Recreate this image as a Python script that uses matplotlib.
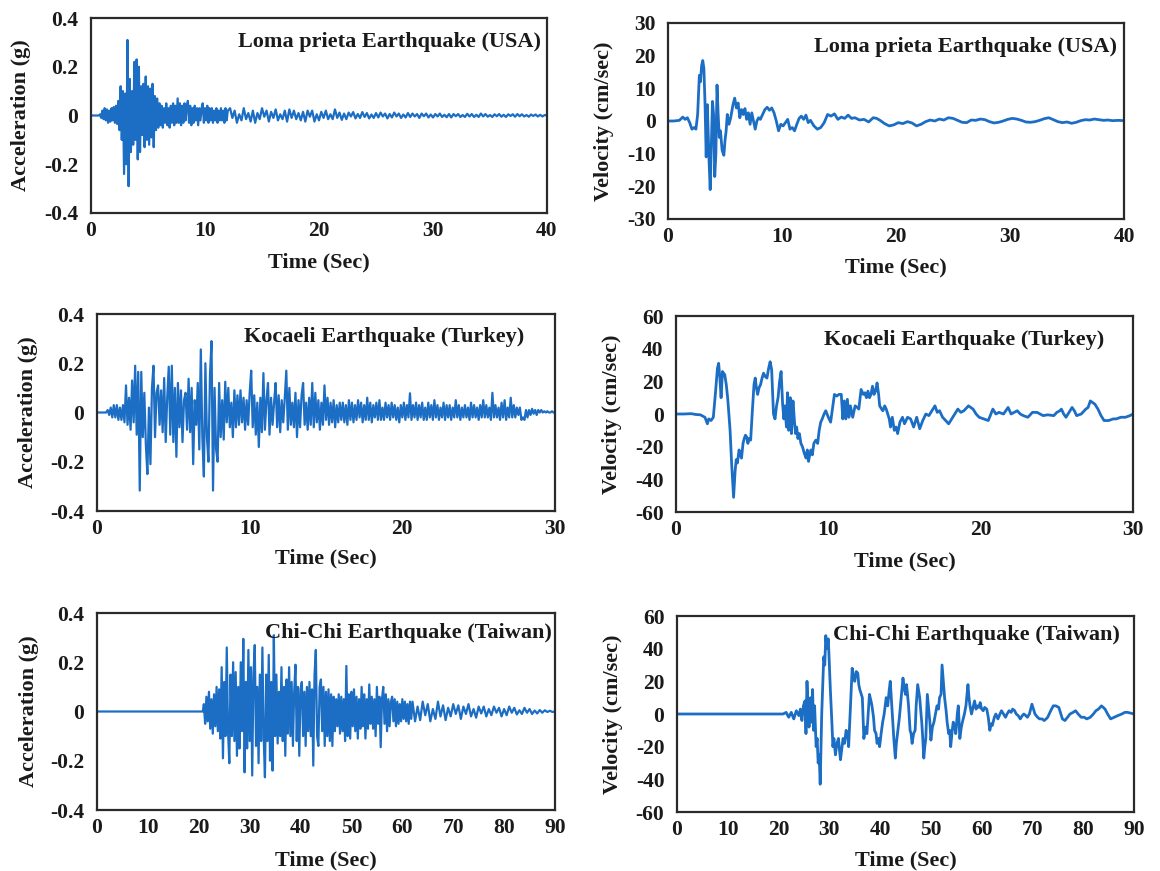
import numpy as np
import matplotlib
matplotlib.use("Agg")
import matplotlib.pyplot as plt

plt.rcParams['font.family'] = ['Liberation Serif', 'DejaVu Serif']
plt.rcParams['font.weight'] = 'bold'
plt.rcParams['axes.unicode_minus'] = False

# ---------------- DATA ----------------
# Loma Prieta acceleration (g): segments (start time, step, values)
loma_acc_a = [0, 0, 0, 0, 0, 0, 0, 0,
              0.005, -0.01, 0.02, -0.015, 0.03, -0.02, 0.025, -0.03, 0.02, -0.025, 0.03, -0.02, 0.035, -0.03, 0.04, -0.035, 0.06,
              -0.06, 0.12, -0.1, 0.1, -0.24, 0.09,
              -0.2, 0.31, -0.29, 0.15, -0.15,
              0.1, -0.12, 0.22, -0.1, 0.23, -0.18, 0.2, -0.15, 0.12,
              -0.08, 0.13, -0.13, 0.16, -0.1, 0.12,
              -0.12, 0.11, -0.09, 0.13, -0.13, 0.08,
              -0.06, 0.07, -0.05, 0.05, -0.04,
              0.04, -0.05, 0.03, -0.03, 0.05, -0.04, 0.03, -0.05, 0.04, -0.03, 0.05, -0.04, 0.04, -0.03,
              0.07, -0.03, 0.05, -0.04, 0.04, -0.03, 0.05, -0.02, 0.04,
              0.06, -0.03, 0.04, -0.04, 0.03, -0.03, 0.04, -0.02, 0.03, -0.04, 0.03, -0.02, 0.03,
              0.05, -0.03, 0.03, -0.02, 0.04, -0.03, 0.03, -0.02, 0.03, -0.03, 0.02, -0.02, 0.03, -0.03, 0.02,
              -0.02, 0.03, -0.02, 0.02, -0.03, 0.03, -0.02, 0.02]
loma_acc_b = [0.03, -0.01, 0.02, -0.03, 0.005, -0.02, 0.03, -0.015, 0.01, -0.025,
              0.02, -0.03, 0.01, -0.015, 0.03, -0.005, 0.02, -0.025, 0.015, -0.01,
              0.025, -0.02, 0.005, -0.015, 0.02, -0.025, 0.025, -0.01, 0.02, -0.015,
              0.01, -0.02, 0.015, -0.025, 0.02, -0.005, 0.02, -0.025, 0.005, -0.02,
              0.015, -0.01, 0.02, -0.015, 0.005, -0.015, 0.025, -0.01, 0.012, -0.018,
              0.008, -0.015, 0.012, -0.004, 0.014, -0.012, 0.006, -0.01, 0.014, -0.006,
              0.01, -0.012, 0.004, -0.01, 0.01, -0.008, 0.012, -0.004, 0.008, -0.012,
              0.006, -0.008, 0.012, -0.004, 0.008, -0.01, 0.004, -0.008, 0.01, -0.006,
              0.008, -0.004, 0.006, -0.01, 0.008, -0.003, 0.008, -0.008, 0.004, -0.008,
              0.006, -0.004, 0.008, -0.006, 0.003, -0.007, 0.006, -0.008, 0.006, -0.003,
              0.006, -0.006, 0.002, -0.006, 0.007, -0.004, 0.006, -0.006, 0.003, -0.006,
              0.008, -0.004, 0.006, -0.005, 0.002, -0.006, 0.005, -0.003, 0.006, -0.005,
              0.003, -0.006, 0.005, -0.002, 0.005, -0.005, 0.006, -0.003, 0.005, -0.004,
              0.002, -0.005, 0.004, -0.002, 0.004, -0.004, 0.003, -0.004, 0.002, 0.0]
loma_acc_segments = [(0.0, 0.1, loma_acc_a), (12.2, 0.2, loma_acc_b)]

# Loma Prieta velocity (cm/sec)
loma_vel_t = [0, 0.5, 1.0, 1.3, 1.5, 1.7, 1.9, 2.1, 2.3, 2.45, 2.6, 2.75, 2.85, 2.95, 3.05, 3.15, 3.25, 3.35, 3.45,
              3.6, 3.7, 3.8, 3.9, 4.0, 4.1, 4.2, 4.3, 4.4, 4.5, 4.6, 4.75, 4.9, 5.0, 5.1, 5.2, 5.35, 5.5, 5.7,
              5.85, 6.0, 6.15, 6.3, 6.45, 6.6, 6.75, 6.9, 7.05, 7.2, 7.35, 7.5, 7.65, 7.8, 7.95, 8.1, 8.3, 8.5,
              8.7, 8.9, 9.1, 9.3, 9.5, 9.7, 9.9, 10.1, 10.3, 10.5, 10.7, 10.9, 11.1, 11.3, 11.5, 11.7, 11.9,
              12.1, 12.3, 12.5, 12.8, 13.1, 13.4, 13.7, 14.0, 14.3, 14.6, 14.9, 15.2, 15.5, 15.8, 16.1, 16.4,
              16.8, 17.2, 17.6, 18.0, 18.3, 18.6, 19.0, 19.4, 19.8, 20.2, 20.6, 21.0, 21.4, 21.8, 22.2, 22.6,
              23.0, 23.4, 23.8, 24.2, 24.6, 25.0, 25.4, 25.8, 26.2, 26.6, 27.0, 27.4, 27.8, 28.2, 28.6, 29.0,
              29.4, 29.8, 30.2, 30.6, 31.0, 31.4, 31.8, 32.2, 32.6, 33.0, 33.4, 33.8, 34.2, 34.6, 35.0, 35.4,
              35.8, 36.2, 36.6, 37.0, 37.4, 37.8, 38.2, 38.6, 39.0, 39.5, 40.0]
loma_vel_v = [0, 0, 0.2, 1.2, 0.5, 1.0, -0.5, -2.5, -2.0, -2.5, 2, 14, 12, 17, 18.5, 16, 5, -11, 5,
              -12, -21, -8, 6, 2, -17, -10, 11, 2, -5, -3, -9, -10.5, -6, -3, 2, -1, 1, 5,
              7, 4, 5.5, 1, 3.5, 2, 3.8, 0.5, 2.5, -1, 2.5, 0, -2.5, 0, 1, 0.5, 2, 3.5,
              4.2, 3.3, 4, 2.5, 0, -3, -1, -1.5, -0.5, 0.5, -2.5, -2, -3, -1, 0.8, 1.5, 0.5,
              1.8, -0.5, 0.2, -1.5, -2.5, -2, -0.5, 2, 1.5, 2.2, 0.5, 1.2, 0.8, 1.8, 0.8, 1,
              0.3, 0.5, -0.3, 1, 0.8, 0.2, -0.8, -1.5, -1.2, -0.5, -0.8, -0.2, -0.6, -1.5, -1, -0.2,
              0.3, 0, 0.6, 0.3, 1, 0.8, 0.2, -0.4, -0.5, 0.3, 0.2, 0.6, 0.4, -0.2, -0.6, -0.4,
              0, 0.5, 0.8, 0.6, 0.2, -0.3, -0.4, -0.2, 0.2, 0.7, 1, 0.4, -0.2, -0.5, -0.3, -0.7,
              -0.4, 0.1, 0.4, 0.3, 0.6, 0.4, 0.2, 0.3, 0.1, 0.2, 0.1]

# Kocaeli acceleration (g), 0.1 s step from 0 s
kocaeli_acc = [0, 0, 0, 0, 0, 0, 0, 0.01, -0.01, 0.02,
               -0.02, 0.03, -0.02, 0.03, -0.03, 0.02, -0.03, 0.03, -0.04, 0.11,
               -0.05, 0.06, -0.07, 0.13, -0.04, 0.19, -0.09, 0.165, -0.317, 0.165,
               -0.1, 0.08, -0.13, -0.25, 0.02, -0.21, 0.1, 0.19, -0.1, 0.08,
               0.11, -0.05, 0.09, -0.08, 0.14, -0.12, 0.06, 0.186, -0.09, 0.19,
               -0.12, 0.1, -0.18, 0.12, -0.06, 0.09, -0.12, 0.05, 0.08, -0.07,
               0.137, -0.08, 0.1, -0.21, 0.05, -0.05, 0.12, -0.15, 0.256, -0.1,
               -0.26, 0.2, -0.1, -0.2, 0.15, 0.29, -0.317, 0.1, -0.15, -0.2,
               0.12, -0.1, 0.05, -0.11, 0.125, -0.04, 0.1, -0.06, 0.04, -0.1,
               0.09, -0.06, 0.07, -0.05, 0.09, -0.04, 0.06, -0.07, 0.05, -0.05,
               0.08, 0.17, -0.06, 0.07, -0.09, 0.04, -0.14, 0.06, -0.08, 0.16,
               -0.07, 0.05, 0.12, -0.09, 0.06, -0.05, 0.04, 0.12, -0.06, 0.07,
               -0.08, 0.05, -0.04, 0.06, 0.17, -0.07, 0.1, -0.05, 0.04, -0.06,
               0.08, -0.1, 0.05, -0.06, 0.07, 0.12, -0.05, 0.04, -0.07, 0.06,
               -0.05, 0.12, -0.06, 0.08, -0.04, 0.05, -0.07, 0.04, -0.05, 0.11,
               -0.03, 0.06, -0.05, 0.04, -0.04, 0.05, -0.06, 0.03, -0.04, 0.04,
               -0.03, 0.04, -0.04, 0.03, -0.05, 0.05, -0.03, 0.04, -0.04, 0.03,
               -0.03, 0.05, -0.02, 0.04, -0.04, 0.03, -0.03, 0.06, -0.03, 0.04,
               -0.04, 0.03, -0.02, 0.04, -0.03, 0.05, -0.03, 0.02, -0.03, 0.04,
               -0.02, 0.03, -0.03, 0.04, -0.02, 0.03, -0.03, 0.02, -0.04, 0.03,
               -0.02, 0.04, -0.03, 0.03, -0.02, 0.078, -0.03, 0.03, -0.02, 0.04,
               -0.03, 0.03, -0.02, 0.04, -0.03, 0.02, -0.03, 0.04, -0.02, 0.03,
               -0.03, 0.05, -0.02, 0.03, -0.03, 0.02, -0.02, 0.04, -0.03, 0.03,
               -0.02, 0.03, -0.03, 0.02, -0.02, 0.05, -0.02, 0.03, -0.03, 0.02,
               -0.02, 0.03, -0.02, 0.02, -0.03, 0.04, -0.02, 0.03, -0.02, 0.02,
               -0.03, 0.03, -0.02, 0.05, -0.02, 0.03, -0.02, 0.02, -0.03, 0.08,
               -0.02, 0.03, -0.02, 0.02, -0.03, 0.04, -0.02, 0.05, -0.03, 0.02,
               -0.02, 0.06, -0.02, 0.03, -0.02, 0.02, -0.01, 0.02, -0.03, -0.02,
               -0.03, 0.01, -0.02, 0.01, -0.01, 0.015, -0.005, 0.01, -0.01, 0.01,
               0.0, 0.01, 0.0, 0.005, 0.0, 0.005, 0.0, 0.0, 0.005, 0.0, 0.0]
kocaeli_acc_segments = [(0.0, 0.1, kocaeli_acc)]

# Kocaeli velocity (cm/sec)
kocaeli_vel_t = [0, 0.5, 1.0, 1.3, 1.6, 1.9, 2.06, 2.15, 2.3, 2.45, 2.6, 2.72, 2.8, 2.88, 2.96, 3.05, 3.2, 3.3,
                 3.4, 3.55, 3.65, 3.78, 3.88, 3.95, 4.03, 4.14, 4.22, 4.3, 4.4, 4.48, 4.56, 4.64, 4.72, 4.8,
                 4.9, 5.0, 5.12, 5.2, 5.28, 5.36, 5.45, 5.55, 5.65, 5.75, 5.85, 5.97, 6.08, 6.18, 6.28, 6.4,
                 6.5, 6.6, 6.7, 6.8, 6.9, 7.0, 7.08, 7.15, 7.25, 7.32, 7.4, 7.5, 7.58, 7.68, 7.78, 7.85, 7.92,
                 8.0, 8.1, 8.2, 8.3, 8.42, 8.54, 8.62, 8.7, 8.78, 8.86, 8.95, 9.05, 9.18, 9.3, 9.4, 9.5, 9.6,
                 9.72, 9.83, 10.0, 10.15, 10.3, 10.4, 10.55, 10.7, 10.85, 10.95, 11.05, 11.15, 11.25, 11.35,
                 11.45, 11.6, 11.76, 11.9, 12.0, 12.15, 12.3, 12.4, 12.5, 12.6, 12.7, 12.8, 12.9, 13.0, 13.1,
                 13.2, 13.3, 13.37, 13.5, 13.58, 13.7, 13.8, 13.9, 14.0, 14.08, 14.2, 14.33, 14.45, 14.55,
                 14.7, 14.87, 15.0, 15.2, 15.4, 15.6, 15.8, 16.0, 16.2, 16.4, 16.6, 16.8, 17.0, 17.15, 17.3,
                 17.5, 17.7, 17.9, 18.1, 18.3, 18.5, 18.7, 18.9, 19.2, 19.5, 19.7, 19.9, 20.2, 20.5, 20.8,
                 21.0, 21.2, 21.5, 21.8, 22.0, 22.2, 22.4, 22.6, 22.8, 23.1, 23.4, 23.7, 23.9, 24.1, 24.4,
                 24.8, 25.0, 25.2, 25.3, 25.45, 25.6, 25.8, 26.0, 26.15, 26.3, 26.6, 26.9, 27.05, 27.2, 27.35,
                 27.5, 27.7, 27.9, 28.1, 28.4, 28.7, 28.9, 29.2, 29.5, 29.8, 30.0]
kocaeli_vel_v = [0, 0, 0.2, -0.3, -0.5, -2, -6, -3, -4, -2, 14, 28, 31, 22, 10, 26, 24, 18,
                 9, -10, -30, -51, -35, -28, -30, -22, -25, -27, -18, -15, -13, -14, -18, -15,
                 -16, 0, 18, 22, 16, 12, 16, 18, 22, 25, 23, 22, 28, 32, 27, 0,
                 -3, 5, 10, 20, 26, 6, -3, 5, -8, 13, -10, 10, -12, 8, -5, -12, -8,
                 -15, -12, -18, -20, -24, -27, -22, -29, -25, -22, -25, -18, -16, -18, -10, -5, -3,
                 0, 2, -2, -5, 5, 12, 11, 12, 12, -3, 8, -3, 9, -2,
                 5, -2, 5, 4, 3, 15, 12, 13, 10, 14, 10, 12, 17, 12, 14,
                 19, 12, 5, 3, 2, 5, 3, 0, -3, -8, -2, -10, -8, -12,
                 -5, -2, -6, -2, -3, -8, -2, -9, -4, 0, -1, 2, 5, 1, 2,
                 -2, -4, -6, -3, 0, 3, 1, 2, 5, 3, 0, -2, -3, -4, 3,
                 0, 1, 0, 4, 0, 1, 2, 0, -1, -2, 1, 1, 0, -1, -0.5,
                 -1, 1, 2, 3, 0, -2, 1, 4, 2, -1, 0, 3, 4, 8, 7,
                 6, 3, -1, -4, -4, -3, -3, -2, -2, -1, 0]

# Chi-Chi acceleration (g)
chichi_acc_quiet = [0.0, 0.0]
chichi_acc_main = [0.03, -0.05, 0.06, -0.04,
                   0.08, -0.07, 0.05, -0.09,
                   0.07, -0.06, 0.1, -0.08,
                   0.09, -0.11, 0.18, -0.19,
                   0.12, -0.1, 0.26, -0.08,
                   -0.21, 0.15, -0.1, 0.2,
                   -0.12, 0.16, -0.18, 0.1,
                   -0.15, 0.2, -0.08, 0.295,
                   -0.247, 0.12, -0.15, 0.25,
                   -0.12, 0.18, -0.26, 0.15,
                   0.27, -0.14, 0.1, -0.21,
                   0.15, -0.12, 0.26, -0.1,
                   -0.267, 0.15, -0.12, 0.23,
                   -0.2, 0.12, -0.24, 0.31,
                   -0.1, 0.15, -0.13, 0.08,
                   -0.1, 0.18, -0.12, 0.1,
                   -0.18, 0.13, -0.09, 0.18,
                   -0.1, 0.12, -0.14, 0.08,
                   0.19, -0.12, 0.1, -0.18,
                   0.09, 0.12, -0.1, 0.08,
                   -0.14, 0.1, -0.08, 0.12,
                   -0.1, 0.09, -0.22, 0.15,
                   0.25, -0.1, -0.14, 0.1,
                   0.13, -0.08, 0.1, -0.14,
                   0.08, -0.1, 0.09, -0.12,
                   0.07, -0.14, 0.06, -0.08,
                   0.05, -0.06, 0.07, -0.09,
                   0.06, -0.08, 0.05, -0.12,
                   0.185, -0.1, 0.07, -0.11,
                   0.08, -0.06, 0.09, -0.08,
                   0.06, -0.11, 0.05, -0.07,
                   0.1, -0.06, 0.07, -0.11,
                   0.05, -0.07, 0.11, -0.05,
                   0.06, -0.07, 0.05, -0.1,
                   0.1, -0.05, 0.06, -0.145,
                   0.05, 0.1, -0.05, 0.07,
                   -0.08, 0.05, -0.06, 0.04,
                   0.06, -0.04, 0.05, -0.06,
                   0.04, -0.05, 0.03, -0.04,
                   0.05, -0.03, 0.04, -0.04,
                   0.03, -0.05, 0.04, -0.03,
                   0.04]
chichi_acc_tail = [-0.04, 0.02, -0.035, 0.04, -0.015, 0.03, -0.04, 0.01, -0.03, 0.04,
                   -0.02, 0.025, -0.035, 0.015, -0.02, 0.03, -0.01, 0.025, -0.03, 0.02,
                   -0.01, 0.03, -0.02, 0.01, -0.025, 0.02, -0.008, 0.02, -0.02, 0.01,
                   -0.015, 0.02, -0.005, 0.015, -0.02, 0.01, -0.015, 0.02, -0.005, 0.015,
                   -0.012, 0.005, -0.01, 0.015, -0.005, 0.01, -0.01, 0.004, -0.008, 0.006,
                   -0.005, 0.005, -0.002, 0.003, -0.002, 0.0]
chichi_acc_segments = [(0.0, 20.8, chichi_acc_quiet), (21.0, 0.25, chichi_acc_main), (62.5, 0.5, chichi_acc_tail)]

# Chi-Chi velocity (cm/sec)
chichi_vel_t = [0, 20.9, 21.5, 22, 22.5, 23, 23.5, 24, 24.3, 24.6, 24.9, 25.2, 25.4, 25.6, 25.8, 26.0, 26.3, 26.5,
                26.7, 26.9, 27.1, 27.4, 27.6, 27.8, 28.0, 28.2, 28.5, 28.9, 29.1, 29.3, 29.5, 29.8, 30.0, 30.2,
                30.5, 30.7, 30.9, 31.2, 31.5, 31.8, 32.0, 32.2, 32.5, 32.7, 33.0, 33.3, 33.6, 33.8, 34.1, 34.5,
                34.8, 35.0, 35.3, 35.6, 35.8, 36.0, 36.3, 36.5, 36.8, 37.1, 37.4, 37.7, 37.9, 38.2, 38.4, 38.7,
                38.9, 39.2, 39.4, 39.7, 39.9, 40.2, 40.5, 40.8, 41.2, 41.5, 41.8, 42.0, 42.3, 42.5, 42.7, 43.0,
                43.2, 43.5, 43.8, 44.0, 44.3, 44.5, 44.8, 45.0, 45.2, 45.4, 45.6, 45.9, 46.1, 46.3, 46.6, 46.9,
                47.1, 47.4, 47.6, 47.8, 48.0, 48.2, 48.4, 48.6, 48.8, 49.0, 49.3, 49.5, 49.8, 50.0, 50.3, 50.6,
                50.9, 51.2, 51.5, 51.7, 52.0, 52.2, 52.4, 52.7, 53.0, 53.2, 53.5, 53.7, 53.9, 54.2, 54.4, 54.7,
                54.9, 55.2, 55.4, 55.7, 56.0, 56.2, 56.6, 56.9, 57.3, 57.5, 57.7, 58.0, 58.3, 58.6, 58.9, 59.2,
                59.5, 59.7, 60.0, 60.3, 60.6, 61.0, 61.3, 61.6, 61.9, 62.1, 62.5, 62.8, 63.2, 63.6, 63.9, 64.3,
                64.7, 65.0, 65.4, 65.8, 66.1, 66.5, 66.8, 67.2, 67.6, 68.0, 68.3, 68.7, 69.0, 69.4, 69.9, 70.2,
                70.5, 71.0, 71.4, 71.9, 72.3, 72.7, 73.0, 73.6, 74.1, 74.6, 75.2, 75.6, 75.9, 76.4, 76.9, 77.4,
                78.0, 78.5, 79.0, 79.6, 80.2, 80.7, 81.4, 82.0, 82.5, 83.0, 83.6, 84.3, 84.8, 85.4, 86.1, 86.8,
                87.6, 88.2, 88.7, 89.4, 90.0]
chichi_vel_v = [0, 0, 1, -2, 1, -3, 2, -1, 3, -4, 5, 8, -12, 20, 5, -8, 10, -5,
                15, -10, 5, -20, -15, -30, -25, -43, 0, 35, 30, 48, 40, 46, 30, 15,
                -5, -20, -15, -25, -18, -15, -22, -28, -20, -15, -18, -10, -12, -20, 0, 28,
                22, 20, 26, 25, 18, 15, 12, 10, -15, -8, -12, 2, 12, 8, 5, -2,
                -10, -12, -18, -15, -20, -12, -5, 0, 10, 5, 15, 20, 5, -5, -15, -27,
                -18, -10, -2, 5, 15, 22, 15, 12, 18, 12, 5, -10, -12, -18, -12, -10,
                5, 18, 14, 10, 2, -5, -15, -27, -20, -15, 12, 5, -5, -16, -8, -5,
                0, 5, 3, 10, 12, 30, 22, 10, 2, -5, -12, -10, -20, -10, -5, -8,
                -12, 0, 5, -15, -8, -5, 0, 5, 18, 10, 5, 0, 4, 8, 3, 5,
                4, 7, 3, 2, 4, 3, -2, -10, -6, -7, -2, 0, -3, 0, 2, 0,
                -2, 0, 2, 1, 3, 2, 0, -1, -3, -1, 0, -1, -2, 0, 6, 3,
                0, -2, -3, -3, -4, -3, -2, 2, 5, 5, 4, 0, -3, -4, -2, 0,
                1, 2, 0, -2, -2, -3, -2, 0, 2, 3, 5, 3, 0, -3, -2, -1,
                0, 1, 1, 0.5, 0]

# Panel texts and axis settings
titles = ["Loma prieta Earthquake (USA)", "Loma prieta Earthquake (USA)",
          "Kocaeli Earthquake (Turkey)", "Kocaeli Earthquake (Turkey)",
          "Chi-Chi Earthquake (Taiwan)", "Chi-Chi Earthquake (Taiwan)"]
acc_label = "Acceleration (g)"
vel_label = "Velocity (cm/sec)"
time_label = "Time (Sec)"
acc_yticks = [-0.4, -0.2, 0, 0.2, 0.4]
acc_yticklabels = ["-0.4", "-0.2", "0", "0.2", "0.4"]
loma_vel_yticks = [-30, -20, -10, 0, 10, 20, 30]
loma_vel_yticklabels = ["-30", "-20", "-10", "0", "10", "20", "30"]
vel_yticks = [-60, -40, -20, 0, 20, 40, 60]
vel_yticklabels = ["-60", "-40", "-20", "0", "20", "40", "60"]
xticks_40 = [0, 10, 20, 30, 40]
xticks_30 = [0, 10, 20, 30]
xticks_90 = [0, 10, 20, 30, 40, 50, 60, 70, 80, 90]


def build(segments):
    ts, vs = [], []
    for t0, dt, vals in segments:
        for i, v in enumerate(vals):
            ts.append(t0 + i * dt)
            vs.append(v)
    return np.array(ts), np.array(vs)


# ---------------- FIGURE ----------------
W, H = 1160, 871
fig = plt.figure(figsize=(W / 100, H / 100), dpi=100)
fig.patch.set_facecolor('white')
LINE = '#1c6ec4'
TXT = '#1a1a1a'
FRAME = '#2a2a2a'
ACC_LW = 1.6
VEL_LW = 2.0


def add_ax(left, top, right, bottom):
    return fig.add_axes([left / W, 1 - bottom / H, (right - left) / W, (bottom - top) / H])


panels = [
    dict(box=(91, 18, 547, 213), data=build(loma_acc_segments), lw=ACC_LW, xlim=40, xt=xticks_40,
         ylim=0.4, yt=acc_yticks, ytl=acc_yticklabels, yl=acc_label, ylx=-0.154, xly=-0.256,
         tp=(0.987, 0.877), title=titles[0]),
    dict(box=(668, 23, 1124, 219), data=(np.array(loma_vel_t), np.array(loma_vel_v)), lw=VEL_LW, xlim=40,
         xt=xticks_40, ylim=30, yt=loma_vel_yticks, ytl=loma_vel_yticklabels, yl=vel_label, ylx=-0.14,
         xly=-0.245, tp=(0.985, 0.878), title=titles[1]),
    dict(box=(97, 314, 555, 511), data=build(kocaeli_acc_segments), lw=ACC_LW, xlim=30, xt=xticks_30,
         ylim=0.4, yt=acc_yticks, ytl=acc_yticklabels, yl=acc_label, ylx=-0.151, xly=-0.239,
         tp=(0.932, 0.885), title=titles[2]),
    dict(box=(676, 316, 1133, 512), data=(np.array(kocaeli_vel_t), np.array(kocaeli_vel_v)), lw=VEL_LW,
         xlim=30, xt=xticks_30, ylim=60, yt=vel_yticks, ytl=vel_yticklabels, yl=vel_label, ylx=-0.139,
         xly=-0.255, tp=(0.937, 0.878), title=titles[3]),
    dict(box=(97, 613, 555, 810), data=build(chichi_acc_segments), lw=ACC_LW, xlim=90, xt=xticks_90,
         ylim=0.4, yt=acc_yticks, ytl=acc_yticklabels, yl=acc_label, ylx=-0.149, xly=-0.254,
         tp=(0.993, 0.9), title=titles[4]),
    dict(box=(677, 616, 1134, 812), data=(np.array(chichi_vel_t), np.array(chichi_vel_v)), lw=VEL_LW,
         xlim=90, xt=xticks_90, ylim=60, yt=vel_yticks, ytl=vel_yticklabels, yl=vel_label, ylx=-0.141,
         xly=-0.245, tp=(0.968, 0.903), title=titles[5]),
]

for p in panels:
    ax = add_ax(*p['box'])
    t, v = p['data']
    ax.plot(t, v, color=LINE, lw=p['lw'], solid_joinstyle='round')
    ax.set_xlim(0, p['xlim'])
    ax.set_ylim(-p['ylim'], p['ylim'])
    ax.set_xticks(p['xt'])
    ax.set_xticklabels([str(x) for x in p['xt']])
    ax.set_yticks(p['yt'])
    ax.set_yticklabels(p['ytl'])
    ax.tick_params(axis='both', length=0, labelsize=15.5, colors=TXT)
    ax.tick_params(axis='x', pad=6)
    ax.tick_params(axis='y', pad=9)
    for lab in ax.get_xticklabels() + ax.get_yticklabels():
        lab.set_fontweight('bold')
    for s in ax.spines.values():
        s.set_linewidth(1.6)
        s.set_color(FRAME)
    ax.set_ylabel(p['yl'], fontsize=16, fontweight='bold', color=TXT, va='center')
    ax.yaxis.set_label_coords(p['ylx'], 0.5)
    ax.set_xlabel(time_label, fontsize=16, fontweight='bold', color=TXT, va='center')
    ax.xaxis.set_label_coords(0.5, p['xly'])
    ax.text(p['tp'][0], p['tp'][1], p['title'], transform=ax.transAxes, ha='right', va='center',
            fontsize=16, fontweight='bold', color=TXT)

fig.savefig('out.png', dpi=100, facecolor='white')
